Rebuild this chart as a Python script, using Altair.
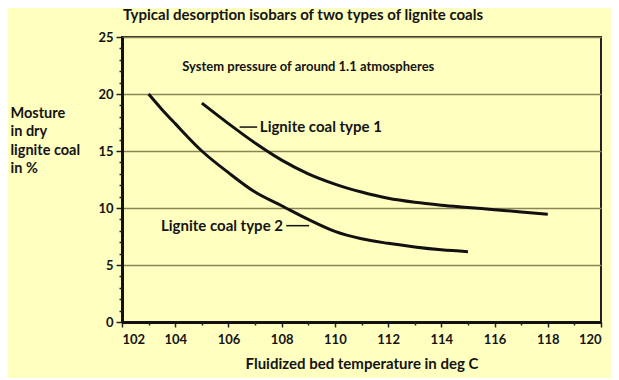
import altair as alt
import pandas as pd

# Type 1 curve
t1_x = [105.0, 106.0, 107.0, 108.0, 109.0, 110.0, 111.0, 112.0, 113.0, 114.0, 115.0, 116.0, 117.0, 118.0]
t1_y = [19.2, 17.4, 15.7, 14.2, 13.0, 12.1, 11.4, 10.85, 10.5, 10.25, 10.05, 9.85, 9.65, 9.45]
# Type 2 curve
t2_x = [103.0, 103.5, 104.0, 105.0, 106.0, 107.0, 108.0, 109.0, 110.0, 111.0, 112.0, 113.0, 114.0, 115.0]
t2_y = [20.0, 18.65, 17.4, 15.0, 13.1, 11.4, 10.2, 9.0, 7.95, 7.3, 6.9, 6.58, 6.33, 6.17]

x_major = [102, 104, 106, 108, 110, 112, 114, 116, 118, 120]
x_minor = [103, 105, 107, 109, 111, 113, 115, 117, 119]
y_major = [0, 5, 10, 15, 20, 25]
y_minor = [v for v in range(0, 26) if v % 5 != 0]

labels = ["Lignite coal type 1", "Lignite coal type 2"]
label_x = [107.18, 108.05]
label_y = [17.1, 8.45]
leader_x1 = [106.42, 108.17]
leader_x2 = [107.08, 109.03]
leader_y = [17.1, 8.45]

note_text = "System pressure of around 1.1 atmospheres"
note_x = [109.0]
note_y = [22.4]

title = "Typical desorption isobars of two types of lignite coals"
title_x = [108.8]
title_y = [26.45]
y_title = ["Mosture", "in dry", "lignite coal", "in %"]
x_title = "Fluidized bed temperature in deg C"

FONT = "Lato"
TXT = "#141414"
BG = "#FFFFC0"
GRID = "#8A8456"

curves = pd.concat([
    pd.DataFrame({"x": t1_x, "y": t1_y, "s": "Lignite coal type 1"}),
    pd.DataFrame({"x": t2_x, "y": t2_y, "s": "Lignite coal type 2"}),
])

xs = alt.Scale(domain=[102, 120], nice=False, zero=False)
ys = alt.Scale(domain=[0, 25], nice=False)

x_axis = alt.Axis(
    values=x_major, orient="bottom",
    tickSize=5, tickColor="#222", tickWidth=1.5,
    grid=False, labelOverlap=False,
    domainColor="#111", domainWidth=3,
    labelFont=FONT, labelFontSize=13, labelFontWeight="bold", labelColor=TXT,
    labelPadding=6,
    title=x_title, titleFont=FONT, titleFontSize=15, titleFontWeight="bold",
    titleColor=TXT, titlePadding=10,
)

y_axis = alt.Axis(
    values=y_major, orient="left",
    tickSize=6, tickColor="#222", tickWidth=1.5,
    grid=True, gridColor=GRID, gridWidth=1.6,
    labelOverlap=False,
    domainColor="#111", domainWidth=3,
    labelFont=FONT, labelFontSize=13, labelFontWeight="bold", labelColor=TXT,
    labelPadding=3,
    title=y_title, titleFont=FONT, titleFontSize=14.5, titleFontWeight="bold",
    titleColor=TXT, titleAngle=0, titleAlign="left", titleBaseline="top",
    titleX=-112, titleY=69, titleLineHeight=18.5,
)

x_minor_axis = alt.Axis(
    values=x_minor, orient="bottom", tickSize=3, tickColor="#222", tickWidth=1.5,
    labels=False, domain=False, grid=False, title=None,
)
y_minor_axis = alt.Axis(
    values=y_minor, orient="left", tickSize=3, tickColor="#222", tickWidth=1.5,
    labels=False, domain=False, grid=False, title=None,
)

lines = alt.Chart(curves).mark_line(
    color="#111", strokeWidth=3, interpolate="monotone"
).encode(
    x=alt.X("x:Q", scale=xs, axis=x_axis),
    y=alt.Y("y:Q", scale=ys, axis=y_axis),
    detail="s:N",
)

minor = alt.Chart(curves).mark_line(opacity=0).encode(
    x=alt.X("x:Q", scale=xs, axis=x_minor_axis),
    y=alt.Y("y:Q", scale=ys, axis=y_minor_axis),
    detail="s:N",
)

lab_df = pd.DataFrame({"t": labels, "x": label_x, "y": label_y})
lab1 = alt.Chart(lab_df.iloc[[0]]).mark_text(
    font=FONT, fontSize=15, fontWeight="bold", color=TXT, align="left", baseline="middle"
).encode(x=alt.X("x:Q", scale=xs), y=alt.Y("y:Q", scale=ys), text="t:N")
lab2 = alt.Chart(lab_df.iloc[[1]]).mark_text(
    font=FONT, fontSize=15, fontWeight="bold", color=TXT, align="right", baseline="middle"
).encode(x=alt.X("x:Q", scale=xs), y=alt.Y("y:Q", scale=ys), text="t:N")

lead_df = pd.DataFrame({"x1": leader_x1, "x2": leader_x2, "y": leader_y})
leaders = alt.Chart(lead_df).mark_rule(color="#111", strokeWidth=1.5).encode(
    x=alt.X("x1:Q", scale=xs), x2="x2:Q", y=alt.Y("y:Q", scale=ys)
)

note_df = pd.DataFrame({"t": [note_text], "x": note_x, "y": note_y})
note = alt.Chart(note_df).mark_text(
    font=FONT, fontSize=13, fontWeight="bold", color=TXT, align="center", baseline="middle"
).encode(x=alt.X("x:Q", scale=xs), y=alt.Y("y:Q", scale=ys), text="t:N")

title_df = pd.DataFrame({"t": [title], "x": title_x, "y": title_y})
title_mark = alt.Chart(title_df).mark_text(
    font=FONT, fontSize=15, fontWeight="bold", color=TXT, align="center", baseline="alphabetic"
).encode(x=alt.X("x:Q", scale=xs), y=alt.Y("y:Q", scale=ys), text="t:N")

main = alt.layer(lines, leaders, lab1, lab2, note, title_mark)

chart = alt.layer(main, minor).resolve_axis(x="independent", y="independent").properties(
    width=479, height=285,
    background=BG,
    padding={"left": 114, "top": 29, "right": 10, "bottom": 56},
    autosize=alt.AutoSizeParams(type="none"),
).configure_view(stroke="#222", strokeWidth=2)

chart.save("out.html", embed_options={"renderer": "svg", "actions": False})
